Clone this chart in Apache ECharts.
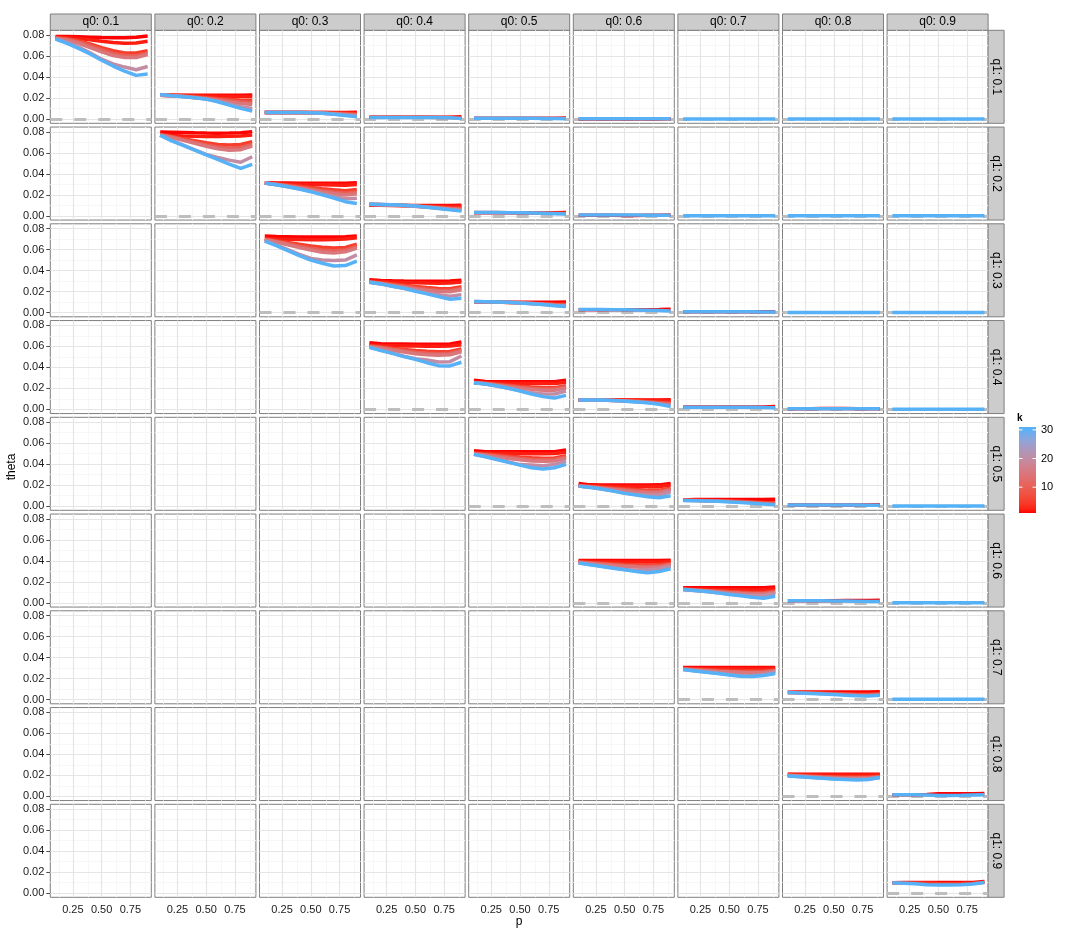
<!DOCTYPE html>
<html><head><meta charset="utf-8">
<script src="https://cdn.jsdelivr.net/npm/echarts@6/dist/echarts.min.js"></script>
<style>html,body{margin:0;padding:0;background:#fff}#c{width:1080px;height:936px}</style>
</head><body><div id="c"></div>
<script>
const pValues = [0.1,0.2,0.3,0.4,0.5,0.6,0.7,0.8,0.9];
const kValues = [1,2,5,10,15,20,30];
const q0Labels = ['q0: 0.1','q0: 0.2','q0: 0.3','q0: 0.4','q0: 0.5','q0: 0.6','q0: 0.7','q0: 0.8','q0: 0.9'];
const q1Labels = ['q1: 0.1','q1: 0.2','q1: 0.3','q1: 0.4','q1: 0.5','q1: 0.6','q1: 0.7','q1: 0.8','q1: 0.9'];
const xTicks = [0.25,0.5,0.75];
const xMinor = [0.125,0.375,0.625,0.875];
const yTicks = [0,0.02,0.04,0.06,0.08];
const yMinor = [0.01,0.03,0.05,0.07];
const legendTicks = [10,20,30];

// theta values: one row per k in kValues (null = not drawn), one column per p in pValues
const th_r1c1 = [
 [.0785,.0785,.0783,.0780,.0776,.0774,.0775,.0778,.0790],
 [.0780,.0775,.0768,.0755,.0740,.0728,.0722,.0725,.0740],
 [.0775,.0765,.0745,.0715,.0680,.0650,.0630,.0630,.0650],
 [.0772,.0760,.0735,.0700,.0660,.0625,.0605,.0600,.0630],
 [.0770,.0750,.0720,.0680,.0640,.0605,.0585,.0585,.0615],
 [.0765,.0730,.0685,.0630,.0570,.0525,.0495,.0470,.0500],
 [.0762,.0720,.0673,.0620,.0560,.0505,.0457,.0416,.0429]];
const th_r1c2 = [
 [.0228,.0228,.0228,.0228,.0228,.0228,.0228,.0228,.0229],
 [.0228,.0226,.0224,.0222,.0220,.0218,.0216,.0214,.0213],
 [.0228,.0224,.0219,.0213,.0205,.0196,.0188,.0180,.0175],
 [.0228,.0223,.0217,.0209,.0199,.0186,.0174,.0162,.0155],
 [.0228,.0223,.0215,.0206,.0194,.0178,.0162,.0148,.0140],
 [.0230,.0222,.0214,.0204,.0190,.0170,.0145,.0117,.0100],
 [.0235,.0222,.0213,.0203,.0190,.0165,.0133,.0102,.0076]];
const th_r1c3 = [
 [.0063,.0063,.0063,.0063,.0063,.0063,.0063,.0063,.0064],
 [.0063,.0063,.0063,.0063,.0062,.0062,.0061,.0060,.0059],
 [.0063,.0063,.0063,.0062,.0061,.0059,.0056,.0053,.0050],
 [.0063,.0063,.0063,.0062,.0060,.0057,.0053,.0048,.0042],
 [.0063,.0063,.0063,.0062,.0060,.0056,.0051,.0044,.0036],
 [.0063,.0063,.0063,.0062,.0060,.0055,.0049,.0040,.0030],
 [.0063,.0063,.0063,.0063,.0060,.0055,.0047,.0035,.0022]];
const th_r1c4 = [
 [.0017,.0017,.0017,.0017,.0017,.0017,.0017,.0018,.0022],
 null,
 [.0017,.0017,.0017,.0017,.0017,.0017,.0016,.0015,.0012],
 null, null, null,
 [.0016,.0016,.0016,.0016,.0016,.0016,.0016,.0013,.0005]];
const th_r1c5 = [
 [.0008,.0008,.0008,.0008,.0008,.0008,.0008,.0008,.0010],
 null, null, null, null, null,
 [.0008,.0008,.0008,.0008,.0008,.0007,.0006,.0005,.0003]];
const th_r1c6 = [
 [.0002,.0002,.0002,.0001,.0000,.0000,.0000,.0002,.0003],
 null, null, null, null, null,
 [.0003,.0003,.0003,.0003,.0003,.0003,.0003,.0003,.0003]];
const th_r1c7 = [null,null,null,null,null,null,[.0002,.0002,.0002,.0002,.0002,.0002,.0002,.0002,.0002]];
const th_r1c8 = [null,null,null,null,null,null,[.0002,.0002,.0002,.0002,.0002,.0002,.0002,.0002,.0002]];
const th_r1c9 = [null,null,null,null,null,null,[.0002,.0002,.0002,.0002,.0002,.0002,.0002,.0002,.0002]];

const th_r2c2 = [
 [.0797,.0795,.0793,.0790,.0788,.0787,.0788,.0790,.0800],
 [.0775,.0765,.0760,.0757,.0755,.0755,.0757,.0760,.0770],
 [.0772,.0755,.0735,.0715,.0695,.0680,.0675,.0680,.0705],
 [.0770,.0750,.0725,.0700,.0675,.0655,.0645,.0650,.0680],
 [.0769,.0745,.0718,.0690,.0662,.0638,.0625,.0630,.0665],
 [.0768,.0718,.0672,.0628,.0585,.0556,.0530,.0510,.0562],
 [.0768,.0714,.0670,.0625,.0580,.0537,.0492,.0451,.0489]];
const th_r2c3 = [
 [.0315,.0313,.0312,.0311,.0310,.0310,.0310,.0310,.0315],
 [.0312,.0308,.0304,.0300,.0297,.0295,.0293,.0292,.0298],
 [.0312,.0303,.0293,.0282,.0270,.0258,.0248,.0240,.0250],
 [.0312,.0300,.0287,.0272,.0256,.0240,.0226,.0216,.0228],
 [.0312,.0298,.0283,.0265,.0246,.0227,.0210,.0198,.0210],
 [.0312,.0295,.0277,.0257,.0233,.0208,.0185,.0162,.0168],
 [.0312,.0295,.0277,.0256,.0230,.0200,.0170,.0135,.0118]];
const th_r2c4 = [
 [.0102,.0100,.0099,.0099,.0099,.0099,.0099,.0099,.0101],
 [.0105,.0102,.0100,.0098,.0096,.0094,.0093,.0092,.0092],
 [.0108,.0105,.0102,.0098,.0093,.0088,.0083,.0078,.0075],
 [.0109,.0106,.0103,.0098,.0092,.0085,.0078,.0071,.0065],
 [.0110,.0107,.0103,.0098,.0092,.0084,.0075,.0066,.0058],
 [.0110,.0108,.0104,.0099,.0092,.0083,.0073,.0062,.0052],
 [.0110,.0108,.0105,.0100,.0093,.0082,.0070,.0057,.0045]];
const th_r2c5 = [
 [.0030,.0030,.0030,.0030,.0028,.0028,.0030,.0030,.0032],
 null, null,
 [.0031,.0031,.0031,.0030,.0029,.0028,.0026,.0024,.0022],
 null, null,
 [.0031,.0031,.0031,.0030,.0029,.0027,.0024,.0021,.0018]];
const th_r2c6 = [
 [.0006,.0006,.0006,.0006,.0003,.0003,.0005,.0006,.0007],
 null, null, null, null, null,
 [.0007,.0007,.0007,.0007,.0007,.0007,.0006,.0006,.0005]];
const th_r2c7 = [null,null,null,null,null,null,[.0002,.0002,.0002,.0002,.0002,.0002,.0002,.0002,.0002]];
const th_r2c8 = [null,null,null,null,null,null,[.0002,.0002,.0002,.0002,.0002,.0002,.0002,.0002,.0002]];
const th_r2c9 = [null,null,null,null,null,null,[.0002,.0002,.0002,.0002,.0002,.0002,.0002,.0002,.0002]];

const th_r3c3 = [
 [.0728,.0724,.0722,.0720,.0719,.0719,.0720,.0722,.0730],
 [.0705,.0700,.0697,.0695,.0694,.0694,.0696,.0700,.0712],
 [.0700,.0685,.0668,.0650,.0635,.0622,.0615,.0620,.0650],
 [.0697,.0678,.0655,.0632,.0612,.0595,.0588,.0595,.0630],
 [.0694,.0672,.0645,.0618,.0595,.0575,.0568,.0578,.0615],
 [.0685,.0645,.0600,.0555,.0515,.0500,.0495,.0500,.0550],
 [.0680,.0638,.0590,.0543,.0500,.0470,.0444,.0448,.0489]];
const th_r3c4 = [
 [.0312,.0305,.0302,.0300,.0299,.0299,.0299,.0300,.0308],
 [.0300,.0295,.0290,.0286,.0283,.0281,.0280,.0281,.0290],
 [.0295,.0285,.0273,.0260,.0248,.0238,.0230,.0228,.0245],
 [.0292,.0280,.0265,.0250,.0235,.0222,.0213,.0210,.0230],
 [.0290,.0276,.0259,.0242,.0225,.0210,.0200,.0198,.0218],
 [.0289,.0273,.0250,.0232,.0208,.0185,.0171,.0156,.0171],
 [.0289,.0273,.0250,.0232,.0203,.0178,.0152,.0127,.0137]];
const th_r3c5 = [
 [.0100,.0100,.0099,.0098,.0098,.0098,.0098,.0098,.0100],
 null,
 [.0103,.0102,.0100,.0097,.0093,.0089,.0085,.0081,.0079],
 [.0104,.0103,.0101,.0097,.0092,.0087,.0081,.0075,.0071],
 null,
 [.0105,.0104,.0102,.0098,.0092,.0086,.0078,.0070,.0063],
 [.0105,.0104,.0102,.0098,.0092,.0085,.0076,.0066,.0058]];
const th_r3c6 = [
 [.0028,.0028,.0028,.0028,.0028,.0028,.0028,.0029,.0031],
 null, null, null, null, null,
 [.0029,.0029,.0029,.0028,.0027,.0025,.0022,.0019,.0016]];
const th_r3c7 = [
 [.0008,.0008,.0008,.0008,.0008,.0008,.0008,.0008,.0009],
 null, null, null, null, null,
 [.0009,.0009,.0009,.0009,.0008,.0008,.0007,.0006,.0005]];
const th_r3c8 = [null,null,null,null,null,null,[.0002,.0002,.0002,.0002,.0002,.0002,.0002,.0002,.0002]];
const th_r3c9 = [null,null,null,null,null,null,[.0002,.0002,.0002,.0002,.0002,.0002,.0002,.0002,.0002]];

const th_r4c4 = [
 [.0635,.0625,.0622,.0621,.0620,.0620,.0620,.0622,.0640],
 [.0610,.0607,.0605,.0603,.0602,.0601,.0601,.0603,.0615],
 [.0605,.0595,.0582,.0570,.0560,.0552,.0548,.0550,.0575],
 [.0600,.0588,.0572,.0557,.0544,.0535,.0530,.0534,.0560],
 [.0597,.0582,.0563,.0545,.0530,.0520,.0515,.0520,.0548],
 [.0592,.0565,.0535,.0505,.0482,.0470,.0450,.0454,.0508],
 [.0590,.0559,.0533,.0502,.0476,.0444,.0416,.0413,.0448]];
const th_r4c5 = [
 [.0278,.0265,.0263,.0262,.0262,.0262,.0262,.0263,.0278],
 [.0255,.0252,.0250,.0248,.0247,.0246,.0246,.0247,.0258],
 [.0255,.0248,.0240,.0230,.0220,.0212,.0206,.0205,.0225],
 [.0254,.0245,.0234,.0222,.0210,.0200,.0194,.0193,.0215],
 [.0254,.0243,.0229,.0215,.0201,.0190,.0182,.0182,.0202],
 [.0254,.0241,.0222,.0200,.0178,.0157,.0146,.0146,.0175],
 [.0254,.0241,.0222,.0200,.0175,.0146,.0121,.0108,.0133]];
const th_r4c6 = [
 [.0090,.0090,.0090,.0090,.0090,.0090,.0090,.0090,.0092],
 [.0089,.0089,.0089,.0088,.0087,.0086,.0085,.0084,.0083],
 [.0089,.0089,.0088,.0086,.0083,.0079,.0074,.0068,.0063],
 [.0089,.0089,.0088,.0085,.0081,.0076,.0069,.0061,.0053],
 null,
 [.0089,.0089,.0088,.0084,.0079,.0072,.0064,.0053,.0040],
 [.0089,.0089,.0088,.0084,.0078,.0071,.0062,.0048,.0028]];
const th_r4c7 = [
 [.0022,.0022,.0022,.0022,.0022,.0022,.0022,.0023,.0028],
 null, null, null, null, null,
 [.0020,.0020,.0020,.0020,.0020,.0020,.0019,.0018,.0015]];
const th_r4c8 = [
 [.0005,.0005,.0005,.0007,.0009,.0007,.0005,.0005,.0005],
 null, null, null, null, null,
 [.0005,.0005,.0005,.0005,.0005,.0005,.0005,.0005,.0005]];
const th_r4c9 = [null,null,null,null,null,null,[.0002,.0002,.0002,.0002,.0002,.0002,.0002,.0002,.0002]];

const th_r5c5 = [
 [.0527,.0518,.0517,.0517,.0517,.0517,.0517,.0518,.0533],
 [.0508,.0506,.0504,.0502,.0500,.0499,.0499,.0500,.0512],
 [.0502,.0495,.0486,.0476,.0467,.0460,.0456,.0458,.0480],
 [.0498,.0488,.0476,.0464,.0452,.0444,.0440,.0443,.0467],
 [.0495,.0483,.0468,.0453,.0440,.0430,.0426,.0430,.0455],
 [.0493,.0472,.0446,.0420,.0395,.0390,.0384,.0397,.0429],
 [.0492,.0470,.0444,.0416,.0390,.0365,.0352,.0365,.0397]];
const th_r5c6 = [
 [.0216,.0202,.0200,.0200,.0200,.0200,.0200,.0202,.0216],
 [.0195,.0193,.0191,.0189,.0187,.0186,.0186,.0187,.0198],
 [.0193,.0187,.0180,.0172,.0164,.0157,.0152,.0152,.0170],
 [.0192,.0184,.0175,.0165,.0155,.0146,.0140,.0140,.0160],
 [.0191,.0182,.0171,.0158,.0146,.0135,.0128,.0128,.0150],
 [.0190,.0179,.0163,.0145,.0125,.0112,.0105,.0105,.0137],
 [.0190,.0178,.0162,.0143,.0121,.0105,.0089,.0079,.0098]];
const th_r5c7 = [
 [.0058,.0062,.0063,.0063,.0063,.0063,.0063,.0063,.0064],
 null,
 [.0055,.0055,.0054,.0052,.0049,.0045,.0040,.0035,.0031],
 [.0055,.0054,.0052,.0049,.0045,.0040,.0034,.0028,.0022],
 null, null,
 [.0054,.0052,.0049,.0045,.0040,.0034,.0027,.0020,.0012]];
const th_r5c8 = [
 [.0010,.0010,.0010,.0010,.0010,.0010,.0010,.0011,.0012],
 null, null, null, null, null,
 [.0011,.0011,.0011,.0011,.0010,.0010,.0010,.0009,.0008]];
const th_r5c9 = [null,null,null,null,null,null,[.0002,.0002,.0002,.0002,.0002,.0002,.0002,.0002,.0002]];

const th_r6c6 = [
 [.0403,.0403,.0403,.0403,.0403,.0403,.0403,.0403,.0405],
 [.0395,.0393,.0391,.0390,.0389,.0388,.0388,.0389,.0395],
 [.0390,.0384,.0378,.0372,.0366,.0362,.0360,.0362,.0378],
 [.0387,.0379,.0371,.0363,.0356,.0350,.0347,.0350,.0368],
 [.0385,.0375,.0365,.0356,.0347,.0340,.0337,.0340,.0360],
 [.0381,.0365,.0350,.0334,.0318,.0310,.0314,.0324,.0349],
 [.0380,.0362,.0346,.0330,.0314,.0298,.0286,.0298,.0324]];
const th_r6c7 = [
 [.0143,.0143,.0143,.0143,.0143,.0143,.0143,.0143,.0150],
 [.0133,.0131,.0129,.0127,.0125,.0124,.0123,.0124,.0132],
 [.0130,.0125,.0120,.0114,.0108,.0103,.0099,.0099,.0112],
 [.0129,.0122,.0116,.0109,.0101,.0095,.0090,.0090,.0105],
 [.0128,.0120,.0113,.0104,.0095,.0088,.0083,.0083,.0098],
 [.0127,.0118,.0109,.0097,.0084,.0074,.0067,.0070,.0086],
 [.0127,.0117,.0108,.0095,.0079,.0067,.0054,.0044,.0063]];
const th_r6c8 = [
 [.0020,.0020,.0020,.0020,.0021,.0022,.0022,.0023,.0025],
 null, null, null, null, null,
 [.0020,.0020,.0020,.0019,.0018,.0017,.0016,.0014,.0012]];
const th_r6c9 = [null,null,null,null,null,null,[.0002,.0002,.0002,.0002,.0002,.0002,.0002,.0002,.0002]];

const th_r7c7 = [
 [.0305,.0305,.0305,.0305,.0305,.0305,.0305,.0305,.0306],
 [.0298,.0297,.0296,.0295,.0294,.0293,.0293,.0294,.0298],
 [.0292,.0288,.0284,.0280,.0276,.0273,.0272,.0273,.0283],
 [.0290,.0285,.0279,.0273,.0268,.0264,.0263,.0265,.0276],
 [.0288,.0282,.0275,.0268,.0262,.0257,.0255,.0258,.0270],
 [.0287,.0274,.0262,.0250,.0238,.0228,.0230,.0238,.0263],
 [.0286,.0273,.0260,.0248,.0235,.0222,.0219,.0229,.0248]];
const th_r7c8 = [
 [.0070,.0073,.0073,.0073,.0073,.0073,.0073,.0073,.0074],
 null,
 [.0068,.0066,.0064,.0061,.0058,.0055,.0052,.0051,.0054],
 [.0068,.0065,.0062,.0058,.0054,.0050,.0047,.0046,.0050],
 null, null,
 [.0067,.0063,.0059,.0054,.0048,.0042,.0037,.0035,.0041]];
const th_r7c9 = [null,null,null,null,null,null,[.0003,.0003,.0003,.0003,.0003,.0003,.0003,.0003,.0003]];

const th_r8c8 = [
 [.0210,.0210,.0210,.0210,.0210,.0210,.0210,.0210,.0211],
 [.0207,.0206,.0205,.0204,.0203,.0203,.0203,.0203,.0205],
 [.0202,.0198,.0194,.0190,.0187,.0185,.0184,.0185,.0192],
 [.0200,.0195,.0190,.0185,.0181,.0178,.0177,.0178,.0186],
 [.0198,.0193,.0187,.0181,.0176,.0173,.0172,.0173,.0182],
 [.0196,.0190,.0182,.0175,.0168,.0164,.0163,.0166,.0180],
 [.0194,.0187,.0180,.0172,.0165,.0160,.0156,.0160,.0180]];
const th_r8c9 = [
 [.0016,.0016,.0016,.0018,.0025,.0025,.0025,.0025,.0026],
 null, null, null, null, null,
 [.0016,.0016,.0015,.0012,.0009,.0008,.0010,.0013,.0016]];

const th_r9c9 = [
 [.0098,.0102,.0102,.0102,.0102,.0102,.0102,.0102,.0110],
 null,
 [.0098,.0099,.0097,.0094,.0091,.0090,.0091,.0094,.0104],
 null, null, null,
 [.0098,.0094,.0088,.0080,.0076,.0076,.0079,.0086,.0100]];

const panelData = {
 '1,1':th_r1c1,'1,2':th_r1c2,'1,3':th_r1c3,'1,4':th_r1c4,'1,5':th_r1c5,'1,6':th_r1c6,'1,7':th_r1c7,'1,8':th_r1c8,'1,9':th_r1c9,
 '2,2':th_r2c2,'2,3':th_r2c3,'2,4':th_r2c4,'2,5':th_r2c5,'2,6':th_r2c6,'2,7':th_r2c7,'2,8':th_r2c8,'2,9':th_r2c9,
 '3,3':th_r3c3,'3,4':th_r3c4,'3,5':th_r3c5,'3,6':th_r3c6,'3,7':th_r3c7,'3,8':th_r3c8,'3,9':th_r3c9,
 '4,4':th_r4c4,'4,5':th_r4c5,'4,6':th_r4c6,'4,7':th_r4c7,'4,8':th_r4c8,'4,9':th_r4c9,
 '5,5':th_r5c5,'5,6':th_r5c6,'5,7':th_r5c7,'5,8':th_r5c8,'5,9':th_r5c9,
 '6,6':th_r6c6,'6,7':th_r6c7,'6,8':th_r6c8,'6,9':th_r6c9,
 '7,7':th_r7c7,'7,8':th_r7c8,'7,9':th_r7c9,
 '8,8':th_r8c8,'8,9':th_r8c9,
 '9,9':th_r9c9
};

// ---------- colour scale (Lab interpolation, like ggplot's gradient) ----------
const LOW = '#FF0000', HIGH = '#56B1F7', K_MIN = 1, K_MAX = 30;
function hexToRgb(h){return [parseInt(h.slice(1,3),16),parseInt(h.slice(3,5),16),parseInt(h.slice(5,7),16)];}
function toLin(c){c/=255;return c<=0.04045?c/12.92:Math.pow((c+0.055)/1.055,2.4);}
function fromLin(c){c=c<=0.0031308?12.92*c:1.055*Math.pow(c,1/2.4)-0.055;return Math.round(Math.min(1,Math.max(0,c))*255);}
const Xn=0.95047,Yn=1,Zn=1.08883;
function ff(t){return t>0.008856?Math.cbrt(t):7.787*t+16/116;}
function finv(t){return t>0.206893?t*t*t:(t-16/116)/7.787;}
function rgb2lab(rgb){const [r,g,b]=rgb.map(toLin);
 const X=0.4124*r+0.3576*g+0.1805*b,Y=0.2126*r+0.7152*g+0.0722*b,Z=0.0193*r+0.1192*g+0.9505*b;
 const fx=ff(X/Xn),fy=ff(Y/Yn),fz=ff(Z/Zn);return [116*fy-16,500*(fx-fy),200*(fy-fz)];}
function lab2rgb(l){const fy=(l[0]+16)/116,fx=fy+l[1]/500,fz=fy-l[2]/200;
 const X=Xn*finv(fx),Y=Yn*finv(fy),Z=Zn*finv(fz);
 return [fromLin(3.2406*X-1.5372*Y-0.4986*Z),fromLin(-0.9689*X+1.8758*Y+0.0415*Z),fromLin(0.0557*X-0.2040*Y+1.0570*Z)];}
const labLow=rgb2lab(hexToRgb(LOW)), labHigh=rgb2lab(hexToRgb(HIGH));
function colourAt(t){const l=labLow.map((v,i)=>v+(labHigh[i]-v)*t);const c=lab2rgb(l);return 'rgb('+c.join(',')+')';}
function colourK(k){return colourAt((k-K_MIN)/(K_MAX-K_MIN));}

// ---------- layout ----------
const LEFT=50.3, TOP=30.3, PW=101, PH=93, DX=104.6, DY=96.75;
const X_MIN=0.054, X_MAX=0.932, Y_MIN=-0.004, Y_MAX=0.0845;
const FONT='"Liberation Sans", Arial, sans-serif';

const grids=[], xAxes=[], yAxes=[], series=[], graphics=[];
for(let r=0;r<9;r++){
 for(let c=0;c<9;c++){
  const idx=r*9+c;
  const left=LEFT+c*DX, top=TOP+r*DY;
  grids.push({left:left, top:top, width:PW, height:PH, show:true, backgroundColor:'#fff', borderColor:'#7F7F7F', borderWidth:1});
  const bottomRow = r===8, leftCol = c===0;
  xAxes.push({type:'value', gridIndex:idx, min:X_MIN, max:X_MAX, axisLine:{show:false}, splitLine:{show:false},
   axisTick:{show:bottomRow, customValues:xTicks, length:4, lineStyle:{color:'#4D4D4D', width:1}},
   axisLabel:{show:bottomRow, customValues:xTicks, margin:7, fontSize:11, color:'#1A1A1A', fontFamily:FONT,
     formatter:v=>v.toFixed(2)}});
  yAxes.push({type:'value', gridIndex:idx, min:Y_MIN, max:Y_MAX, axisLine:{show:false}, splitLine:{show:false},
   axisTick:{show:leftCol, customValues:yTicks, length:4, lineStyle:{color:'#4D4D4D', width:1}},
   axisLabel:{show:leftCol, customValues:yTicks, margin:6, fontSize:11, color:'#1A1A1A', fontFamily:FONT,
     formatter:v=>v.toFixed(2)}});
  const data = panelData[(r+1)+','+(c+1)];
  const ml=[];
  xMinor.forEach(v=>ml.push({xAxis:v, lineStyle:{color:'#F7F7F7', width:1, type:'solid'}}));
  yMinor.forEach(v=>ml.push({yAxis:v, lineStyle:{color:'#F7F7F7', width:1, type:'solid'}}));
  xTicks.forEach(v=>ml.push({xAxis:v, lineStyle:{color:'#E5E5E5', width:1.2, type:'solid'}}));
  yTicks.forEach(v=>ml.push({yAxis:v, lineStyle:{color:'#E5E5E5', width:1.2, type:'solid'}}));
  if(data) ml.push({yAxis:0, lineStyle:{color:'#BEBEBE', width:3, type:[12,12]}});
  series.push({type:'line', xAxisIndex:idx, yAxisIndex:idx, data:[], silent:true, animation:false, z:1,
   markLine:{silent:true, animation:false, symbol:['none','none'], label:{show:false}, z:1, emphasis:{disabled:true}, data:ml}});
 }
}
// data lines, k ascending so that high k is drawn on top
for(let r=0;r<9;r++){
 for(let c=0;c<9;c++){
  const data = panelData[(r+1)+','+(c+1)];
  if(!data) continue;
  const idx=r*9+c;
  kValues.forEach((k,ki)=>{
   const row=data[ki];
   if(!row) return;
   series.push({type:'line', xAxisIndex:idx, yAxisIndex:idx, z:3, silent:true, animation:false,
    showSymbol:false, symbol:'none', lineStyle:{width:3.5, color:colourK(k), cap:'butt'},
    data:pValues.map((p,i)=>[p,row[i]])});
  });
 }
}
// strips
for(let c=0;c<9;c++){
 const left=LEFT+c*DX;
 graphics.push({type:'rect', shape:{x:left, y:14, width:PW, height:TOP-14}, style:{fill:'#CCCCCC', stroke:'#7F7F7F', lineWidth:1}});
 graphics.push({type:'text', x:left+PW/2, y:(14+TOP)/2, style:{text:q0Labels[c], font:'12px '+FONT, fill:'#000', textAlign:'center', textVerticalAlign:'middle'}});
}
const SX = LEFT+8*DX+PW;
for(let r=0;r<9;r++){
 const top=TOP+r*DY;
 graphics.push({type:'rect', shape:{x:SX, y:top, width:16, height:PH}, style:{fill:'#CCCCCC', stroke:'#7F7F7F', lineWidth:1}});
 graphics.push({type:'text', x:SX+8, y:top+PH/2, rotation:-Math.PI/2, style:{text:q1Labels[r], font:'12px '+FONT, fill:'#000', textAlign:'center', textVerticalAlign:'middle'}});
}
// axis titles
graphics.push({type:'text', x:LEFT+(8*DX+PW)/2, y:922, style:{text:'p', font:'12px '+FONT, fill:'#000', textAlign:'center', textVerticalAlign:'middle'}});
graphics.push({type:'text', x:12, y:467, rotation:Math.PI/2, style:{text:'theta', font:'12px '+FONT, fill:'#000', textAlign:'center', textVerticalAlign:'middle'}});
// colour bar legend (bar shows k from 1 to 31 as in reference)
const BX=1019, BY=427, BW=17, BH=86, BAR_LO=1, BAR_HI=31;
const stops=[];
for(let i=0;i<=20;i++){const kk=BAR_LO+(BAR_HI-BAR_LO)*i/20; stops.push({offset:i/20, color:colourK(Math.min(kk,K_MAX))});}
graphics.push({type:'rect', shape:{x:BX, y:BY, width:BW, height:BH}, style:{fill:{type:'linear', x:0, y:1, x2:0, y2:0, colorStops:stops}}});
graphics.push({type:'text', x:BX-2, y:BY-9, style:{text:'k', font:'bold 10px '+FONT, fill:'#000', textAlign:'left', textVerticalAlign:'middle'}});
legendTicks.forEach(v=>{
 const y=BY+BH-(v-BAR_LO)/(BAR_HI-BAR_LO)*BH;
 graphics.push({type:'line', shape:{x1:BX, y1:y, x2:BX+3.5, y2:y}, style:{stroke:'#fff', lineWidth:1}});
 graphics.push({type:'line', shape:{x1:BX+BW-3.5, y1:y, x2:BX+BW, y2:y}, style:{stroke:'#fff', lineWidth:1}});
 graphics.push({type:'text', x:BX+BW+5, y:y, style:{text:String(v), font:'11px '+FONT, fill:'#000', textAlign:'left', textVerticalAlign:'middle'}});
});

const chart = echarts.init(document.getElementById('c'), null, {renderer:'canvas'});
chart.setOption({animation:false, backgroundColor:'#fff', grid:grids, xAxis:xAxes, yAxis:yAxes, series:series, graphic:{elements:graphics}});
</script></body></html>
